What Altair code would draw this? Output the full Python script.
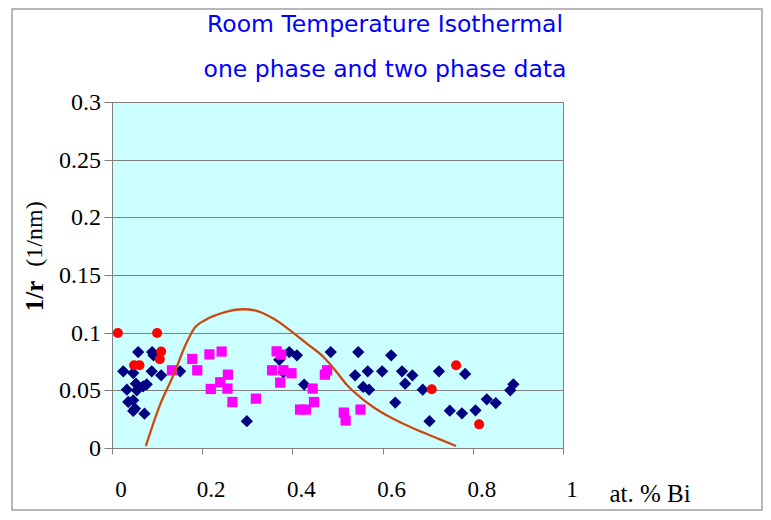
import altair as alt
import pandas as pd

# one phase data (navy diamonds)
navy_x = [0.025, 0.033, 0.036, 0.047, 0.047, 0.053, 0.055, 0.051, 0.047, 0.058,
          0.069, 0.077, 0.072, 0.088, 0.089, 0.092, 0.109, 0.151, 0.299, 0.371,
          0.393, 0.410, 0.426, 0.485, 0.546, 0.539, 0.567, 0.557, 0.570, 0.599,
          0.619, 0.643, 0.666, 0.650, 0.628, 0.689, 0.704, 0.725, 0.749, 0.776,
          0.783, 0.806, 0.831, 0.851, 0.883, 0.890, 0.380]
navy_y = [0.0665, 0.0506, 0.0399, 0.065, 0.0414, 0.0558, 0.050, 0.0342, 0.0321, 0.0832,
          0.0535, 0.0552, 0.0298, 0.0665, 0.0832, 0.0804, 0.063, 0.0665, 0.0232, 0.0765,
          0.0832, 0.0804, 0.055, 0.0832, 0.0832, 0.063, 0.0665, 0.0529, 0.0506, 0.0665,
          0.0804, 0.0665, 0.063, 0.0558, 0.0394, 0.0506, 0.0232, 0.0665, 0.0324, 0.0301,
          0.0642, 0.0327, 0.0422, 0.039, 0.050, 0.0552, 0.0656]

# two phase data (magenta squares)
mag_x = [0.133, 0.178, 0.189, 0.216, 0.243, 0.257, 0.240, 0.219, 0.256, 0.267,
         0.319, 0.365, 0.375, 0.355, 0.380, 0.398, 0.373, 0.445, 0.448, 0.417,
         0.430, 0.477, 0.472, 0.514, 0.518, 0.551]
mag_y = [0.0674, 0.0772, 0.0674, 0.0812, 0.0836, 0.0636, 0.057, 0.0512, 0.0515, 0.0399,
         0.0428, 0.0838, 0.081, 0.0674, 0.0674, 0.0648, 0.0567, 0.0515, 0.0399, 0.0333,
         0.0333, 0.0674, 0.0636, 0.0307, 0.0238, 0.0333]

# red circles
red_x = [0.013, 0.100, 0.109, 0.106, 0.049, 0.061, 0.763, 0.709, 0.814]
red_y = [0.0997, 0.0997, 0.0836, 0.0769, 0.0717, 0.0717, 0.0717, 0.0509, 0.0205]

# curve
curve_x = [0.075, 0.106, 0.136, 0.166, 0.182, 0.210, 0.247, 0.291, 0.317, 0.358,
           0.395, 0.432, 0.469, 0.495, 0.520, 0.550, 0.579, 0.616, 0.653, 0.690,
           0.727, 0.763]
curve_y = [0.0017, 0.037, 0.063, 0.0919, 0.1035, 0.1116, 0.1174, 0.1203, 0.1194, 0.1122,
           0.102, 0.0905, 0.0789, 0.0674, 0.055, 0.0442, 0.0356, 0.0269, 0.0197, 0.0134,
           0.0075, 0.0017]

x_ticks = [0, 0.2, 0.4, 0.6, 0.8, 1]
x_tick_labels = ["0", "0.2", "0.4", "0.6", "0.8", "1"]
y_ticks = [0, 0.05, 0.1, 0.15, 0.2, 0.25, 0.3]
y_tick_labels = ["0", "0.05", "0.1", "0.15", "0.2", "0.25", "0.3"]

title1 = "Room Temperature Isothermal"
title2 = "one phase and two phase data"

SERIF = "Liberation Serif"

xs = alt.Scale(domain=[0, 1], nice=False)
ys = alt.Scale(domain=[0, 0.3], nice=False)

xaxis = alt.Axis(values=x_ticks, title=None, grid=False, labels=False, tickSize=6,
                 domainColor="#808080", tickColor="#808080")
yaxis = alt.Axis(values=y_ticks, title=None, grid=True, labels=False, tickSize=8,
                 domainColor="#808080", tickColor="#808080", gridColor="#808080")

navy_df = pd.DataFrame({"x": navy_x, "y": navy_y})
mag_df = pd.DataFrame({"x": mag_x, "y": mag_y})
red_df = pd.DataFrame({"x": red_x, "y": red_y})
curve_df = pd.DataFrame({"x": curve_x, "y": curve_y, "i": list(range(len(curve_x)))})
xlab_df = pd.DataFrame({"x": x_ticks, "t": x_tick_labels})
ylab_df = pd.DataFrame({"y": y_ticks, "t": y_tick_labels})

frame = alt.Chart(pd.DataFrame({"a": [0]})).mark_rect(
    fillOpacity=0, stroke="#a0a0a0", strokeWidth=1.5
).encode(x=alt.value(-100), x2=alt.value(650), y=alt.value(-93), y2=alt.value(408))

navy = alt.Chart(navy_df).mark_point(shape="diamond", filled=True, color="#000080", size=150, opacity=1).encode(
    x=alt.X("x:Q", scale=xs, axis=xaxis),
    y=alt.Y("y:Q", scale=ys, axis=yaxis),
)
mag = alt.Chart(mag_df).mark_point(shape="square", filled=True, color="#FF00FF", size=105, opacity=1).encode(
    x=alt.X("x:Q", scale=xs, axis=xaxis), y=alt.Y("y:Q", scale=ys, axis=yaxis))
red = alt.Chart(red_df).mark_point(shape="circle", filled=True, color="#FF0000", size=100, opacity=1).encode(
    x=alt.X("x:Q", scale=xs, axis=xaxis), y=alt.Y("y:Q", scale=ys, axis=yaxis))
curve = alt.Chart(curve_df).mark_line(color="#CC4A10", strokeWidth=2.3, interpolate="monotone").encode(
    x=alt.X("x:Q", scale=xs, axis=xaxis), y=alt.Y("y:Q", scale=ys, axis=yaxis), order="i:Q")

xlabels = alt.Chart(xlab_df).mark_text(
    font=SERIF, fontSize=23, color="black", dx=9, align="center", baseline="middle"
).encode(x=alt.X("x:Q", scale=xs, axis=xaxis), y=alt.value(388), text="t:N")

ylabels = alt.Chart(ylab_df).mark_text(
    font=SERIF, fontSize=24, color="black", align="right", baseline="middle", dy=1
).encode(x=alt.value(-11), y=alt.Y("y:Q", scale=ys, axis=yaxis), text="t:N")

def txt(t, x, y, size, font, color="black", weight="normal", angle=0):
    return alt.Chart(pd.DataFrame({"t": [t]})).mark_text(
        font=font, fontSize=size, color=color, fontWeight=weight, angle=angle,
        align="center", baseline="middle"
    ).encode(x=alt.value(x), y=alt.value(y), text="t:N")

t1 = txt(title1, 273, -77, 23.5, "DejaVu Sans", color="#0000FF")
t2 = txt(title2, 273, -32, 23.5, "DejaVu Sans", color="#0000FF")
xt = txt("at. % Bi", 538, 392, 25, SERIF)
yt1 = txt("1/r", -77, 194, 25, SERIF, weight="bold", angle=270)
yt2 = txt("(1/nm)", -77, 132, 24, SERIF, angle=270)

chart = alt.layer(frame, navy, mag, red, curve, xlabels, ylabels, t1, t2, xt, yt1, yt2).properties(
    width=451, height=346,
    autosize=alt.AutoSizeParams(type="none"),
    padding={"left": 104, "top": 94, "right": 200, "bottom": 64},
    background="white",
).configure_view(
    fill="#CCFFFF", stroke="#808080"
)

chart.save("out.html", embed_options={"renderer": "svg", "actions": False})
